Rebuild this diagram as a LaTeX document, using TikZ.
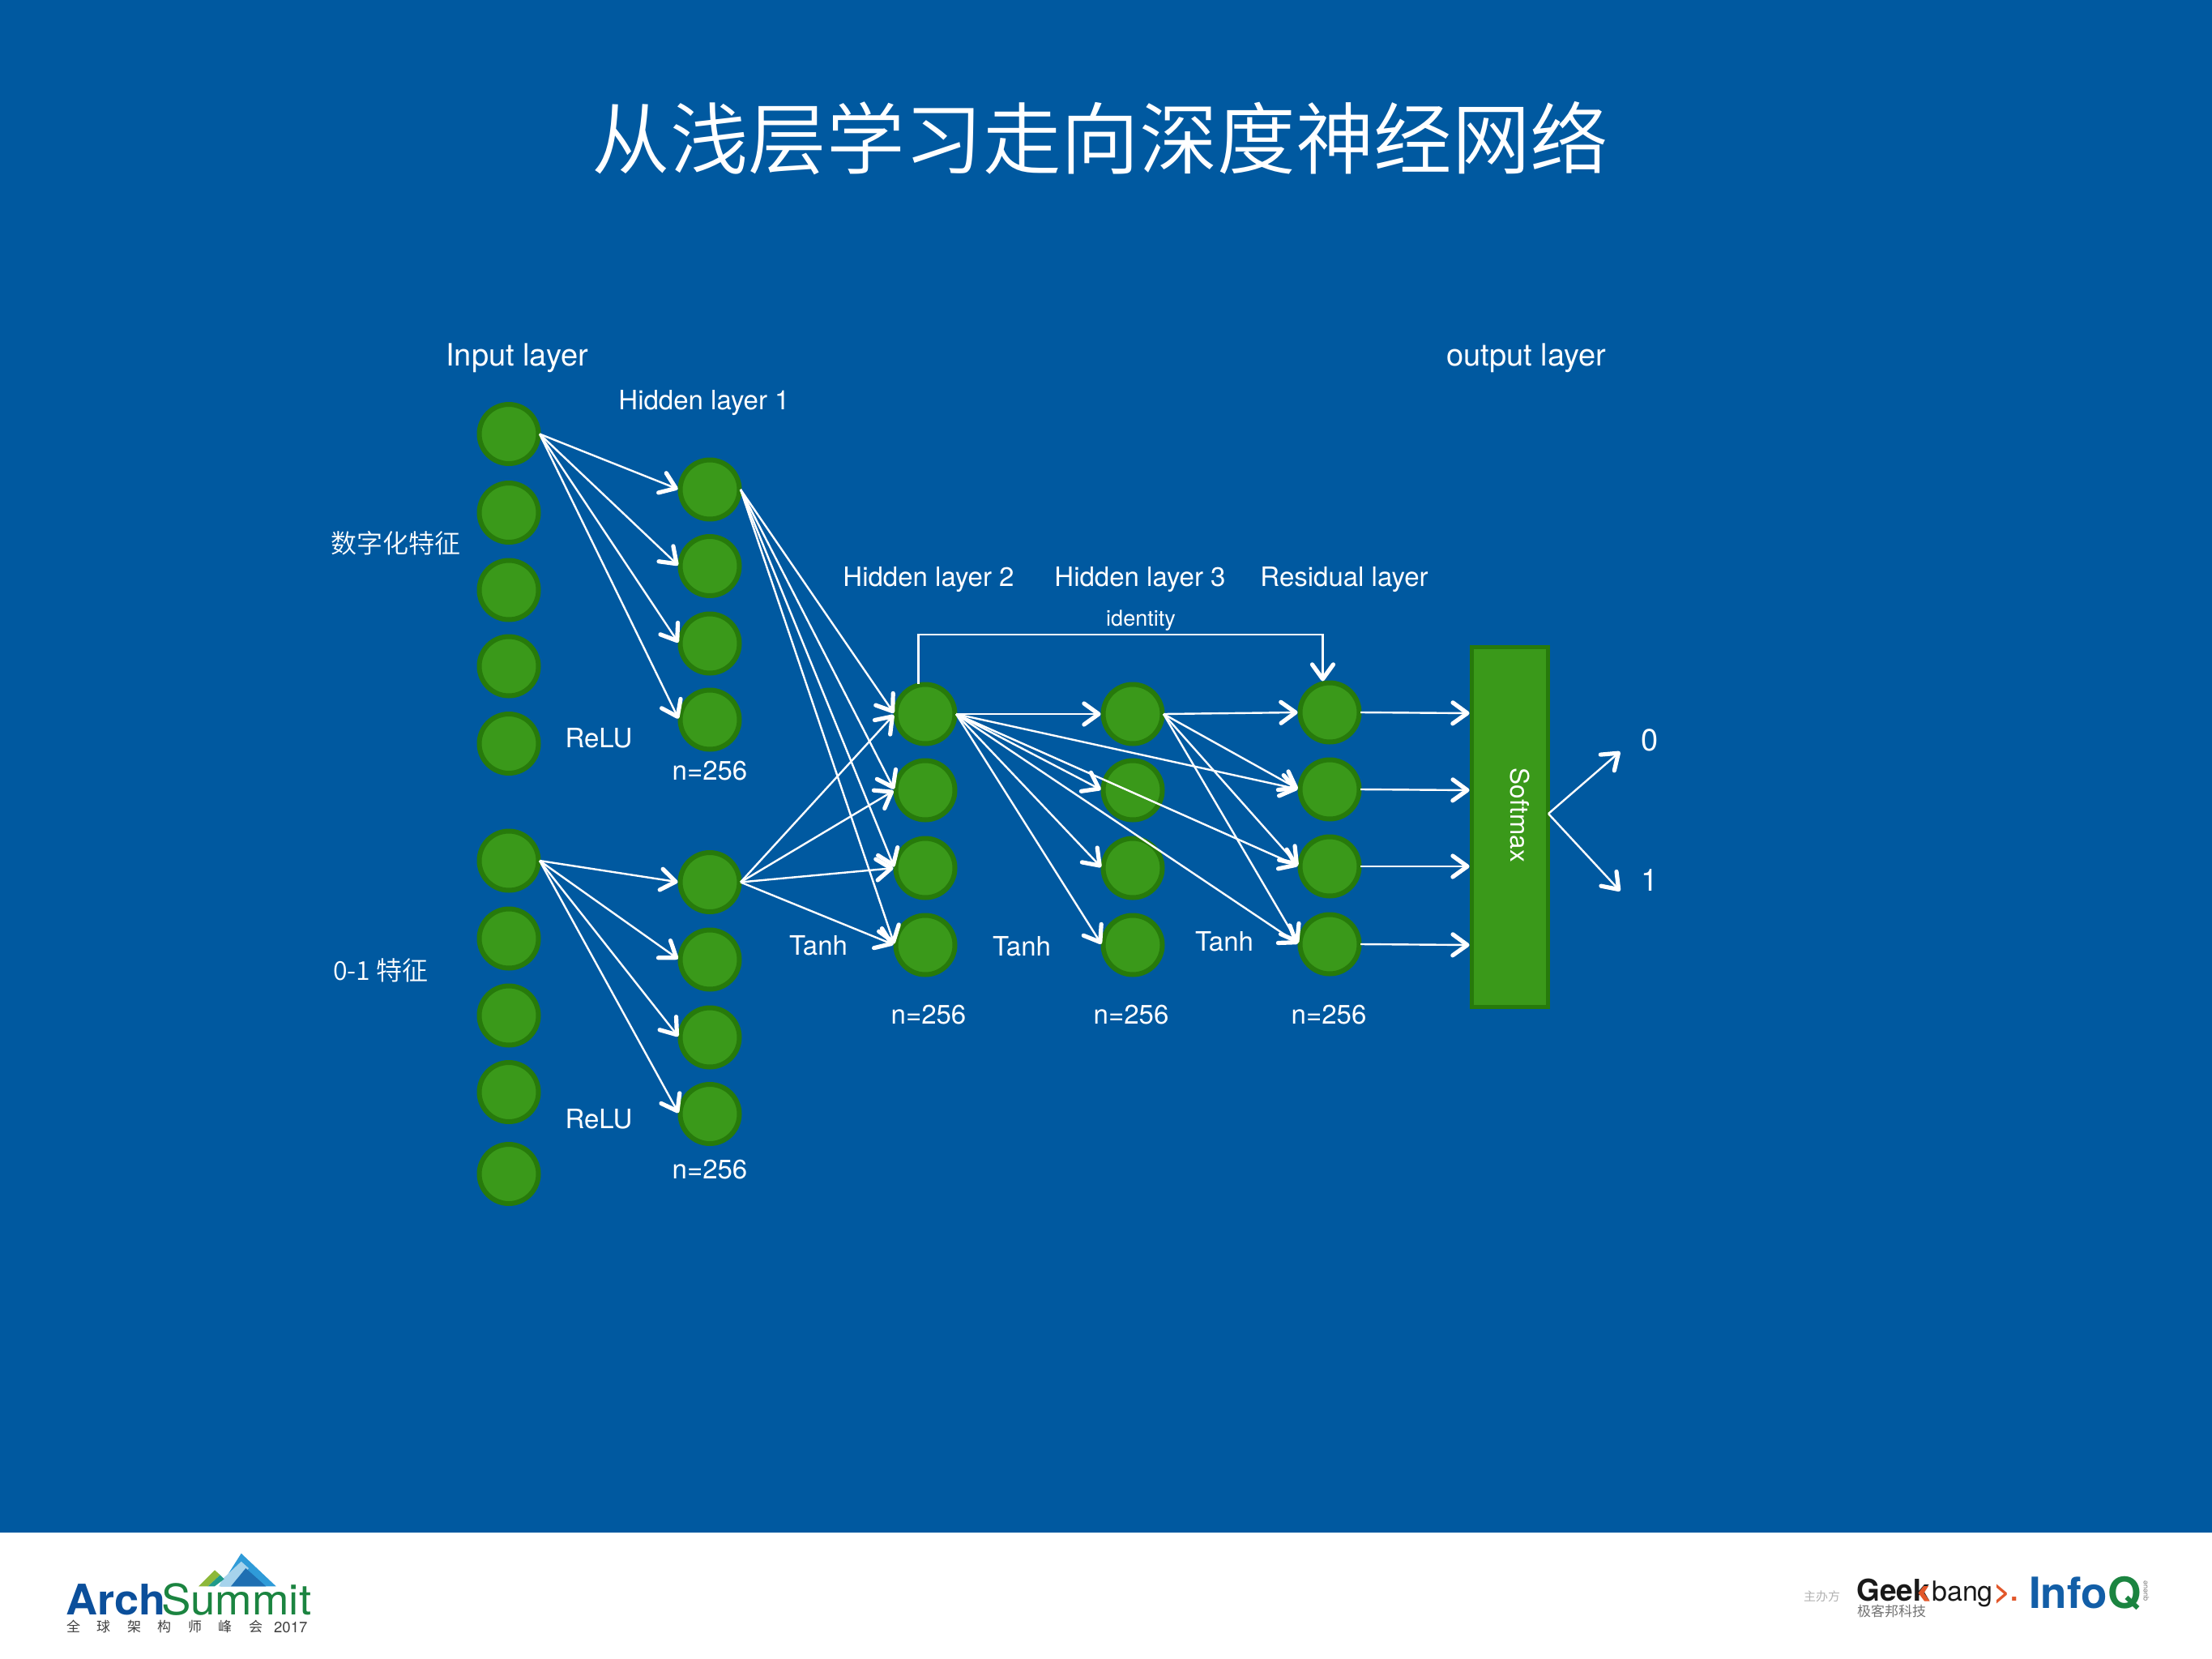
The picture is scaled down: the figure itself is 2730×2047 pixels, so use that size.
\documentclass[tikz,border=0pt]{standalone}
\usepackage{fontspec}
\setmainfont{TeX Gyre Heros}
\newfontfamily\cjk{Noto Sans CJK SC DemiLight}
\newfontfamily\cjkr{Noto Sans CJK SC}
\usetikzlibrary{arrows.meta}
\definecolor{bgblue}{HTML}{0059A0}
\definecolor{nodegreen}{HTML}{3A991A}
\definecolor{edgegreen}{HTML}{277A0B}
\definecolor{archblue}{HTML}{0B4F9B}
\definecolor{archgreen}{HTML}{1B8440}
\definecolor{sky}{HTML}{2F9BD8}
\definecolor{paleblue}{HTML}{A6D3EC}
\definecolor{deepblue}{HTML}{1F6FB2}
\definecolor{lime}{HTML}{8DB83A}
\definecolor{tealg}{HTML}{1F9A8A}
\definecolor{orangeg}{HTML}{E2572A}
\newcommand{\fs}[1]{\fontsize{#1}{#1}\selectfont}
\tikzset{
  neuron/.style={circle,draw=edgegreen,fill=nodegreen,line width=6pt,inner sep=0pt,minimum size=73pt,outer sep=1.5pt},
  softbox/.style={rectangle,draw=edgegreen,fill=nodegreen,line width=5pt,inner sep=0pt,minimum width=94pt,minimum height=444pt},
  conn/.style={draw=white,line width=2.4pt,shorten >=1.5pt,-{Straight Barb[length=18pt,width=26pt,line width=5.2pt,round]}},
  plain/.style={text=white,inner sep=0pt},
  lab/.style={plain,font=\fs{33}},
  big/.style={plain,font=\fs{38}},
  cjklab/.style={plain,font=\cjk\fs{32}},
  logo/.style={inner sep=0pt,anchor=base west},
}
\begin{document}
\begin{tikzpicture}[x=1pt,y=-1pt]
\useasboundingbox (0,0) rectangle (2730,2047);
\fill[bgblue] (0,0) rectangle (2730,1891);
\fill[white] (0,1891) rectangle (2730,2047);

\node[plain,font=\cjk\fs{96.5}] (title) at (1358,171) {从浅层学习走向深度神经网络};

% layers
\foreach \n/\y in {a1/535.5,a2/632.5,a3/728,a4/822,a5/917.5,b1/1062,b2/1158,b3/1253,b4/1347.5,b5/1448.5}
  \node[neuron] (\n) at (628,\y) {};
\foreach \n/\y in {c1/604,c2/698.5,c3/794,c4/888,d1/1088.5,d2/1184,d3/1280,d4/1374.5}
  \node[neuron] (\n) at (876,\y) {};
\foreach \n/\y in {e1/881,e2/975,e3/1071,e4/1166}
  \node[neuron] (\n) at (1142,\y) {};
\foreach \n/\y in {f1/881,f2/975,f3/1071,f4/1166}
  \node[neuron] (\n) at (1398,\y) {};
\foreach \n/\y in {r1/879,r2/974,r3/1069,r4/1165}
  \node[neuron] (\n) at (1641,\y) {};
\node[softbox] (soft) at (1863.5,1020.5) {};
\node[plain,font=\fs{31.5},rotate=-90] (softlab) at (1876,1006) {Softmax};

% free ends
\coordinate (s1) at (1815,880);
\coordinate (s2) at (1815,975);
\coordinate (s3) at (1815,1069);
\coordinate (s4) at (1815,1166);
\coordinate (so) at (1911,1004);
\coordinate (o0) at (2000.5,926.5);
\coordinate (o1) at (2000.5,1100.5);

% connectors
\foreach \t in {c1,c2,c3,c4} \draw[conn] (a1.east) -- (\t.west);
\foreach \t in {d1,d2,d3,d4} \draw[conn] (b1.east) -- (\t.west);
\foreach \t in {e1,e2,e3,e4} {
  \draw[conn] (c1.east) -- (\t.west);
  \draw[conn] (d1.east) -- (\t.west);
}
\foreach \t in {f1,f2,f3,f4,r2,r3,r4} \draw[conn] (e1.east) -- (\t.west);
\foreach \t in {r1,r2,r3,r4} \draw[conn] (f1.east) -- (\t.west);
\draw[conn] (r1.east) -- (s1);
\draw[conn] (r2.east) -- (s2);
\draw[conn] (r3.east) -- (s3);
\draw[conn] (r4.east) -- (s4);
\draw[conn] (so) -- (o0);
\draw[conn] (so) -- (o1);
\draw[conn] (e1.103) -- ++(0,-61) -| (r1.103);

% labels
\node[big] (linput) at (638,442) {Input layer};
\node[big] (loutput) at (1884,442) {output layer};
\node[lab] (lh1) at (869,497) {Hidden layer 1};
\node[lab] (lh2) at (1146,715) {Hidden layer 2};
\node[lab] (lh3) at (1407,715) {Hidden layer 3};
\node[lab] (lres) at (1659,715) {Residual layer};
\node[plain,font=\fs{27}] (lid) at (1408,766) {identity};
\node[cjklab] (lnum) at (488,670) {数字化特征};
\node[cjklab] (lbin) at (470,1197) {0-1 特征};
\node[lab] (relu1) at (739,911) {ReLU};
\node[lab] (relu2) at (739,1381) {ReLU};
\node[lab] (n1) at (876,951) {n=256};
\node[lab] (n2) at (876,1443) {n=256};
\node[lab] (n3) at (1146,1252) {n=256};
\node[lab] (n4) at (1396,1252) {n=256};
\node[lab] (n5) at (1640,1252) {n=256};
\node[lab] (t1) at (1010,1167) {Tanh};
\node[lab] (t2) at (1261,1168) {Tanh};
\node[lab] (t3) at (1511,1162) {Tanh};
\node[big] (l0) at (2036,913) {0};
\node[big] (l1) at (2036,1086) {1};

% ArchSummit logo
\fill[sky] (272,1957.3) -- (297.7,1916.7) -- (340.7,1957.3) -- cycle;
\fill[paleblue] (275,1948) -- (297.7,1926.7) -- (307,1935) -- (285,1957.3) -- (270,1957.3) -- cycle;
\fill[deepblue] (285,1957.3) -- (303.3,1935) -- (328.3,1957.3) -- cycle;
\fill[lime] (245,1957.3) -- (265,1937.3) -- (271.7,1943.3) -- (256.7,1957.3) -- cycle;
\fill[tealg] (256.7,1957.3) -- (271.7,1943.3) -- (276.7,1948.3) -- (265,1957.3) -- cycle;
\node[logo,font=\fs{52}\bfseries\addfontfeature{FakeStretch=1.04},text=archblue] (arch) at (81,1992) {Arch};
\node[logo,font=\fs{52}\addfontfeature{FakeStretch=1.05},text=archgreen] (summit) at (199,1992) {Summit};
\foreach \c/\x [count=\i] in {全/82,球/119,架/157,构/194,师/232,峰/269,会/307}
  \node[logo,text=black!75,font=\cjkr\fs{17}] (cn\i) at (\x,2013) {\c};
\node[logo,text=black!75,font=\fs{18.5}] (year) at (338,2014) {2017};

% organiser logos
\node[logo,text=black!30,font=\cjkr\fs{15}] (host) at (2226,1975) {主办方};
\node[logo,font=\fs{37}\bfseries,text=black!90] (geek) at (2291,1975) {Geek};
\fill[orangeg] (2380,1957) -- (2374,1957) -- (2367.5,1965.5) -- (2375,1975.5) -- (2381.5,1975.5) -- (2374.5,1965.5) -- cycle;
\node[logo,font=\fs{34},text=black!90] (bang) at (2384,1975) {bang};
\node[logo,font=\fs{34}\bfseries,text=orangeg] (gt) at (2461,1975) {>.};
\node[logo,text=black!55,font=\cjkr\fs{17}] (geekcn) at (2292,1994) {极客邦科技};
\node[logo,font=\fs{53}\bfseries,text=archblue!80!sky] (info) at (2504,1984) {Info};
\node[logo,font=\fs{53}\bfseries,text=archgreen] (q) at (info.base east) {Q};
\node[inner sep=0pt,rotate=90,font=\fs{9},text=black!50] (queue) at (2649,1963) {queue};
\end{tikzpicture}
\end{document}
